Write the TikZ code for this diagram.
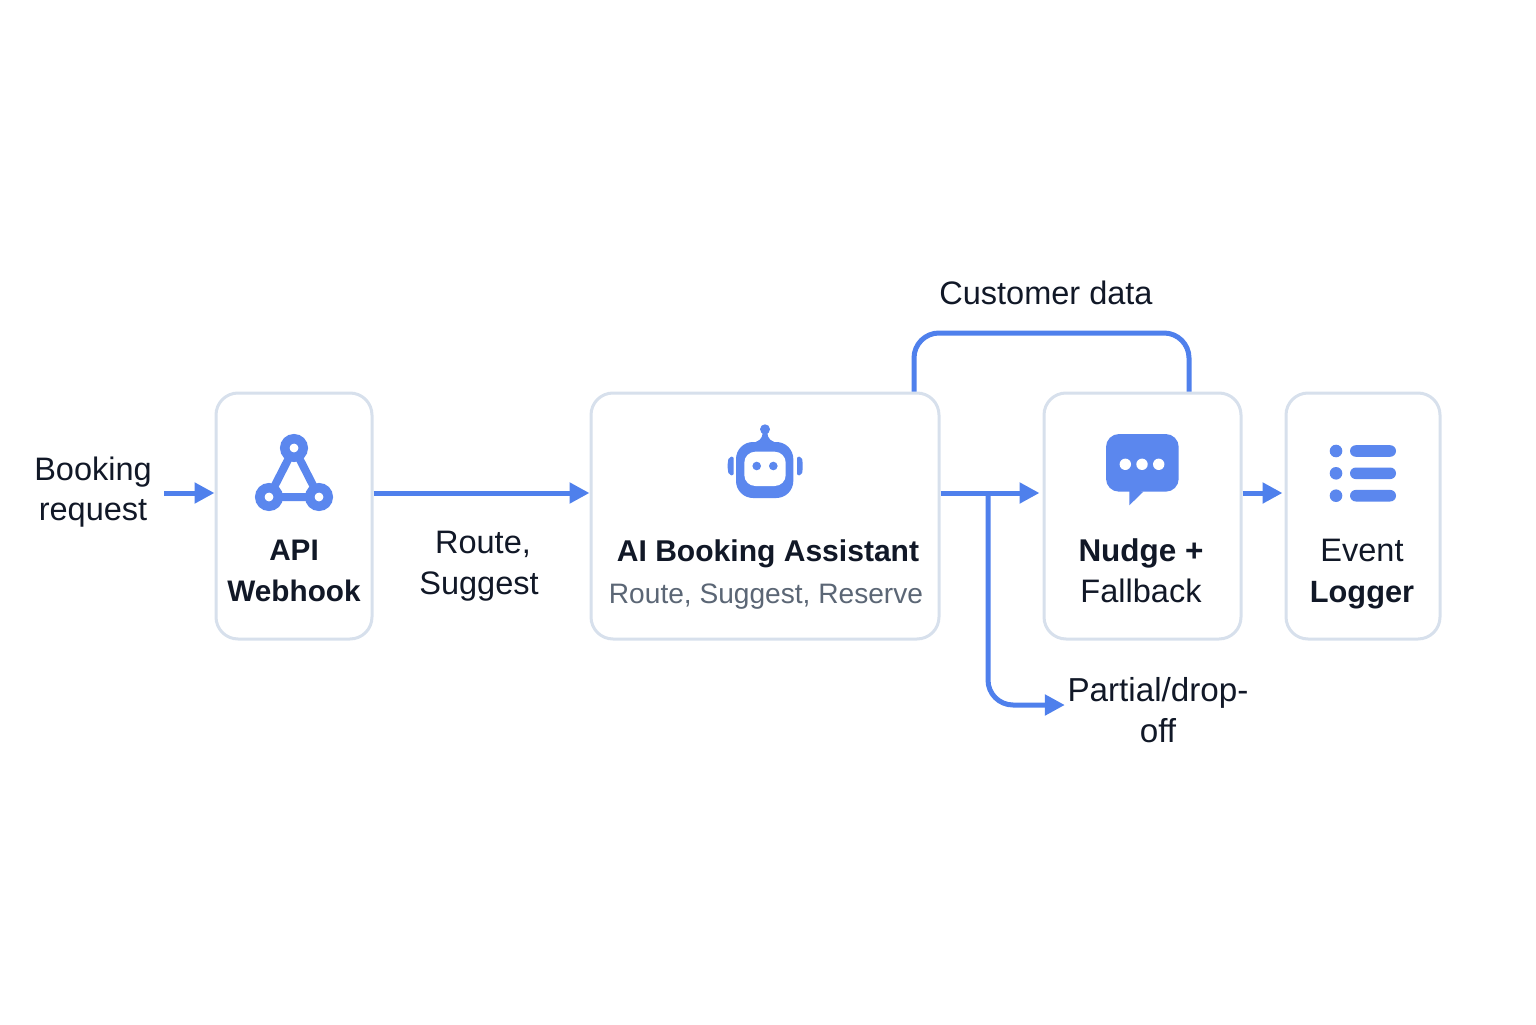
\documentclass[tikz,border=0pt]{standalone}
\usepackage{fontspec}
\setmainfont{Liberation Sans}
\usetikzlibrary{arrows.meta}
\definecolor{flowblue}{HTML}{4F80EC}
\definecolor{iconblue}{HTML}{5B87EE}
\definecolor{boxline}{HTML}{D7E0EC}
\definecolor{inkdark}{HTML}{111827}
\definecolor{inkgrey}{HTML}{5B6675}
\begin{document}
\begin{tikzpicture}
 % the styles
  \tikzstyle{boxe}=[rectangle,draw=boxline,line width=.03cm,fill=white,rounded corners=.22cm,minimum height=2.46cm]
  \tikzstyle{flow}=[-{Triangle[length=.2cm,width=.2cm]},draw=flowblue,line width=.05cm]
  \tikzstyle{link}=[draw=flowblue,line width=.05cm]
  \tikzstyle{lab}=[align=center,inner sep=0pt,text=inkdark,font=\fontsize{9.25}{11.6}\selectfont]
  \tikzstyle{titre}=[lab,font=\fontsize{8.45}{11.6}\selectfont\bfseries]
  \tikzstyle{ico}=[fill=iconblue,draw=none]
  \useasboundingbox (0,0) rectangle (15.36,10.24);
 % the boxes
  \node[boxe,minimum width=1.56cm] (api) at (2.94,5.08) {};
  \node[boxe,minimum width=3.48cm] (ai) at (7.65,5.08) {};
  \node[boxe,minimum width=1.97cm] (nudge) at (11.425,5.08) {};
  \node[boxe,minimum width=1.54cm] (logger) at (13.63,5.08) {};
 % the texts
  \node[lab] (request) at (.93,5.32) {Booking\\request};
  \node[titre] (apitext) at (2.94,4.53) {API\\Webhook};
  \node[lab] (route) at (4.79,4.575) {\hspace*{.08cm}Route,\\Suggest};
  \node[titre,font=\fontsize{8.55}{11.6}\selectfont\bfseries] (aitext) at (7.68,4.70) {AI Booking Assistant};
  \node[lab,text=inkgrey,font=\fontsize{8}{10}\selectfont] (aisub) at (7.66,4.27) {Route, Suggest, Reserve};
  \node[lab] (nudgetext) at (11.41,4.53) {{\fontsize{8.95}{11.6}\selectfont\bfseries Nudge +}\\Fallback};
  \node[lab] (loggertext) at (13.62,4.50) {Event\\{\fontsize{8.75}{11.6}\selectfont\bfseries Logger}};
  \node[lab] (custdata) at (10.46,7.31) {Customer data};
  \node[lab,font=\fontsize{9.45}{11.6}\selectfont] (dropoff) at (11.58,3.14) {Partial/drop-\\off};
 % the fixed points
  \coordinate (axis) at (0,5.31);
  \coordinate (reqout) at (1.64,5.31);
  \coordinate (loopl) at (9.14,6.91);
  \coordinate (loopr) at (11.89,6.91);
  \coordinate (split) at (9.88,5.31);
  \coordinate (bend) at (9.88,3.19);
 % the arrows
  \draw[flow] (reqout)--(api.west |- axis);
  \draw[flow] (api.east |- axis)--(ai.west |- axis);
  \draw[flow,shorten >=.03cm] (ai.east |- axis)--(nudge.west |- axis);
  \draw[flow,shorten >=.02cm] (nudge.east |- axis)--(logger.west |- axis);
  \draw[link,rounded corners=.25cm] (ai.north -| loopl)--(loopl)--(loopr)--(nudge.north -| loopr);
  \draw[flow,rounded corners=.25cm,shorten >=.02cm] (split)--(bend)--(dropoff.west |- bend);
 % the webhook icon
  \draw[draw=iconblue,line width=.08cm] (2.94,5.76)--(2.69,5.27)--(3.19,5.27)--cycle;
  \foreach \x/\y in {2.94/5.76,2.69/5.27,3.19/5.27}
    \draw[draw=iconblue,fill=white,line width=.095cm] (\x,\y) circle (.0925);
 % the robot icon
  \fill[ico] (7.625,5.92)..controls (7.625,5.84) and (7.59,5.83)..(7.50,5.80)--(7.80,5.80)..controls (7.71,5.83) and (7.675,5.84)..(7.675,5.92)--cycle;
  \fill[ico] (7.65,5.947) circle (.05);
  \fill[ico,rounded corners=.17cm] (7.36,5.26) rectangle (7.933,5.82);
  \fill[white,rounded corners=.11cm] (7.443,5.38) rectangle (7.857,5.723);
  \fill[ico] (7.567,5.58) circle (.043);
  \fill[ico] (7.733,5.58) circle (.043);
  \fill[ico,rounded corners=.02cm] (7.337,5.675)--(7.337,5.485)--(7.29,5.49)--(7.277,5.54)--(7.277,5.62)--(7.29,5.67)--cycle;
  \fill[ico,rounded corners=.02cm] (7.97,5.675)--(7.97,5.485)--(8.017,5.49)--(8.027,5.54)--(8.027,5.62)--(8.017,5.67)--cycle;
 % the bubble icon
  \fill[ico,rounded corners=.13cm] (11.06,5.323) rectangle (11.787,5.90);
  \fill[ico] (11.293,5.35)--(11.293,5.187)--(11.433,5.323)--cycle;
  \foreach \x in {11.253,11.42,11.587}
    \fill[white] (\x,5.597) circle (.057);
 % the list icon
  \foreach \y in {5.73,5.507,5.283} {
    \fill[ico] (13.36,\y) circle (.063);
    \fill[ico,rounded corners=.058cm] (13.50,\y-.058) rectangle (13.96,\y+.058);
  }
\end{tikzpicture}
\end{document}
